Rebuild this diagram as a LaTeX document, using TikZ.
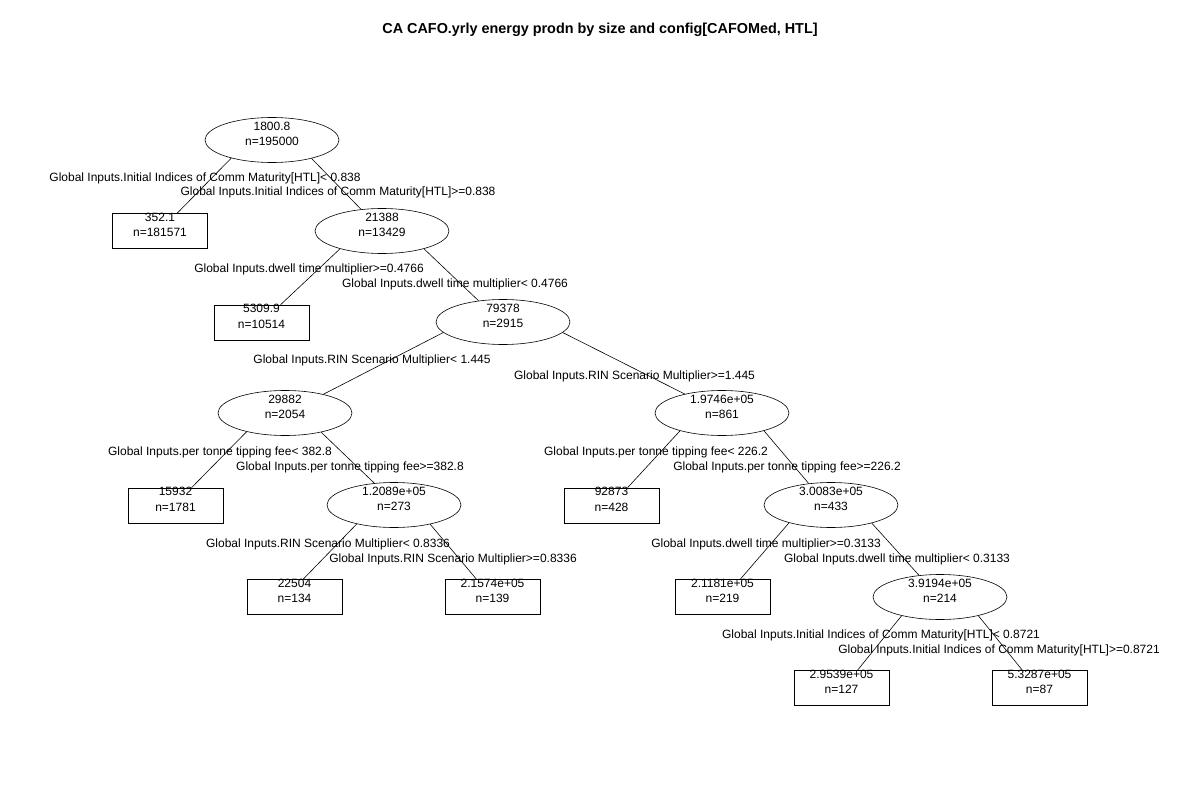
\documentclass[tikz,border=0pt]{standalone}
\usepackage{fontspec}
\setmainfont{Liberation Sans}
\usetikzlibrary{shapes.geometric}

\tikzset{
  split/.style={ellipse, draw, line width=0.6pt, minimum width=134pt, minimum height=45pt, inner sep=0pt},
  leaf/.style={rectangle, draw, line width=0.6pt, minimum width=95pt, minimum height=35pt, inner sep=0pt},
  val/.style={align=center, yshift=6pt, inner sep=0pt, font=\fontsize{12}{15.5}\selectfont},
  rule/.style={inner sep=0pt, font=\fontsize{12}{14}\selectfont},
  branch/.style={line width=0.6pt}
}

\begin{document}
\begin{tikzpicture}[x=1pt, y=-1pt]
  \fill[white] (0,0) rectangle (1200,800);
  \useasboundingbox (0,0) rectangle (1200,800);

  \node[font=\fontsize{14.4}{17}\selectfont\bfseries] (title) at (600,30) {CA CAFO.yrly energy prodn by size and config[CAFOMed, HTL]};

  % Tree nodes
  \node[split, label={[val, name=v1800]center:{1800.8\\n=195000}}] (n1800) at (272,140) {};
  \node[leaf, label={[val, name=v352]center:{352.1\\n=181571}}] (n352) at (160,231) {};
  \node[split, label={[val, name=v21388]center:{21388\\n=13429}}] (n21388) at (382,231) {};
  \node[leaf, label={[val, name=v5309]center:{5309.9\\n=10514}}] (n5309) at (261.5,322.5) {};
  \node[split, label={[val, name=v79378]center:{79378\\n=2915}}] (n79378) at (503,322) {};
  \node[split, label={[val, name=v29882]center:{29882\\n=2054}}] (n29882) at (285,413) {};
  \node[split, label={[val, name=v197e5]center:{1.9746e+05\\n=861}}] (n197e5) at (722,413) {};
  \node[leaf, label={[val, name=v15932]center:{15932\\n=1781}}] (n15932) at (175.5,505.5) {};
  \node[split, label={[val, name=v120e5]center:{1.2089e+05\\n=273}}] (n120e5) at (394,505) {};
  \node[leaf, label={[val, name=v92873]center:{92873\\n=428}}] (n92873) at (611.5,505.5) {};
  \node[split, label={[val, name=v300e5]center:{3.0083e+05\\n=433}}] (n300e5) at (831,505) {};
  \node[leaf, label={[val, name=v22504]center:{22504\\n=134}}] (n22504) at (294.5,597) {};
  \node[leaf, label={[val, name=v215e5]center:{2.1574e+05\\n=139}}] (n215e5) at (492.5,597) {};
  \node[leaf, label={[val, name=v211e5]center:{2.1181e+05\\n=219}}] (n211e5) at (722.5,597) {};
  \node[split, label={[val, name=v391e5]center:{3.9194e+05\\n=214}}] (n391e5) at (940,597) {};
  \node[leaf, label={[val, name=v295e5]center:{2.9539e+05\\n=127}}] (n295e5) at (841.5,688) {};
  \node[leaf, label={[val, name=v532e5]center:{5.3287e+05\\n=87}}] (n532e5) at (1039.5,688) {};

  % Split rules
  \node[rule] (r1a) at (205,178) {Global Inputs.Initial Indices of Comm Maturity[HTL]< 0.838};
  \node[rule] (r1b) at (338,192) {Global Inputs.Initial Indices of Comm Maturity[HTL]>=0.838};
  \node[rule] (r2a) at (309,269) {Global Inputs.dwell time multiplier>=0.4766};
  \node[rule] (r2b) at (455,284) {Global Inputs.dwell time multiplier< 0.4766};
  \node[rule] (r3a) at (372,360) {Global Inputs.RIN Scenario Multiplier< 1.445};
  \node[rule] (r3b) at (634.5,376) {Global Inputs.RIN Scenario Multiplier>=1.445};
  \node[rule] (r4a) at (220,452) {Global Inputs.per tonne tipping fee< 382.8};
  \node[rule] (r4b) at (350,467) {Global Inputs.per tonne tipping fee>=382.8};
  \node[rule] (r5a) at (656,452) {Global Inputs.per tonne tipping fee< 226.2};
  \node[rule] (r5b) at (787,467) {Global Inputs.per tonne tipping fee>=226.2};
  \node[rule] (r6a) at (328,544) {Global Inputs.RIN Scenario Multiplier< 0.8336};
  \node[rule] (r6b) at (453,559) {Global Inputs.RIN Scenario Multiplier>=0.8336};
  \node[rule] (r7a) at (766,544) {Global Inputs.dwell time multiplier>=0.3133};
  \node[rule] (r7b) at (897,559) {Global Inputs.dwell time multiplier< 0.3133};
  \node[rule] (r8a) at (881,635) {Global Inputs.Initial Indices of Comm Maturity[HTL]< 0.8721};
  \node[rule] (r8b) at (999,650) {Global Inputs.Initial Indices of Comm Maturity[HTL]>=0.8721};

  % Branches
  \draw[branch] (n1800.204) -- (n352.46);
  \draw[branch] (n1800.335) -- (n21388.134);
  \draw[branch] (n21388.203) -- (n5309.43);
  \draw[branch] (n21388.337) -- (n79378.139);
  \draw[branch] (n79378.190) -- (n29882.26);
  \draw[branch] (n79378.350) -- (n197e5.153);
  \draw[branch] (n29882.206) -- (n15932.48);
  \draw[branch] (n29882.332) -- (n120e5.132);
  \draw[branch] (n120e5.207) -- (n22504.64);
  \draw[branch] (n120e5.332) -- (n215e5.132);
  \draw[branch] (n197e5.203) -- (n92873.48);
  \draw[branch] (n197e5.337) -- (n300e5.136);
  \draw[branch] (n300e5.203) -- (n211e5.45);
  \draw[branch] (n300e5.336) -- (n391e5.134);
  \draw[branch] (n391e5.206) -- (n295e5.48);
  \draw[branch] (n391e5.334) -- (n532e5.134);
\end{tikzpicture}
\end{document}
